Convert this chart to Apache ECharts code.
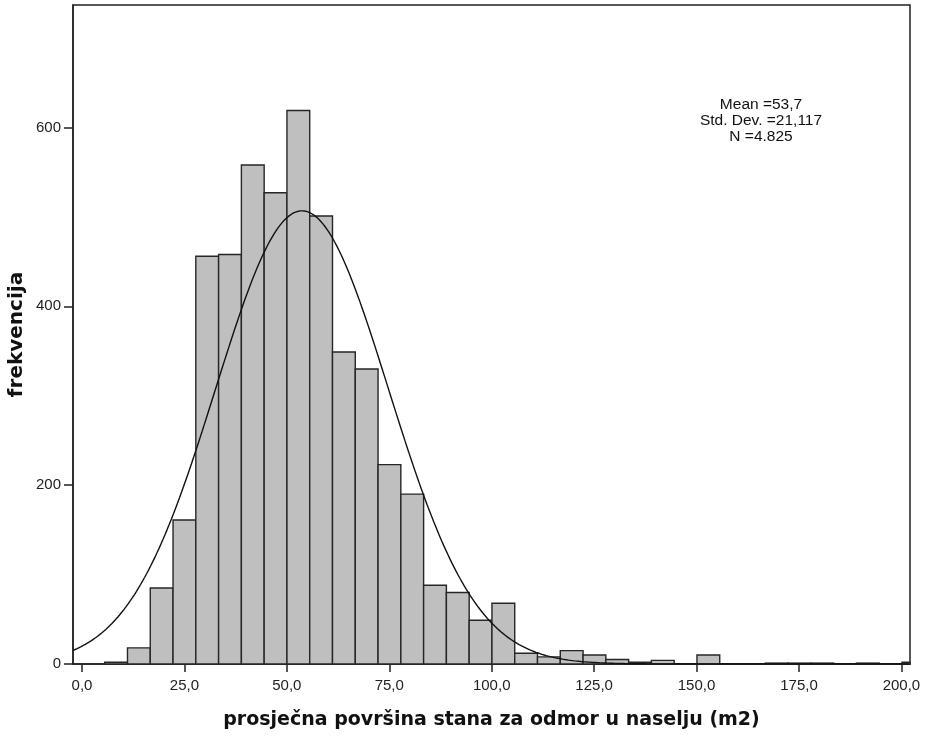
<!DOCTYPE html>
<html>
<head>
<meta charset="utf-8">
<script src="https://cdn.jsdelivr.net/npm/echarts@6/dist/echarts.min.js"></script>
<style>
html,body{margin:0;padding:0;background:#fff;}
#chart{width:931px;height:738px;}
</style>
</head>
<body>
<div id="chart"></div>
<script>
// Histogram bins: first bin lower edge and common bin width (m2)
const binStart = 5.54;
const binWidth = 5.56;
// Frequencies per bin
const counts = [2, 18, 85, 161, 456, 458, 558, 527, 619, 501, 349, 330, 223, 190, 88, 80, 49, 68,
                12, 8, 15, 10, 5, 2, 4, 0, 10, 0, 0, 1, 1, 1, 0, 1, 0, 2];
// Summary statistics shown in the chart
const statMean = 53.7;
const statSd = 21.117;
const statN = 4825;
const statLines = ['Mean =53,7', 'Std. Dev. =21,117', 'N =4.825'];
// Axis ticks
const xTicks = [0, 25, 50, 75, 100, 125, 150, 175, 200];
const yTicks = [0, 200, 400, 600];
const xMin = -2.2, xMax = 202.1, yMax = 737;

const barData = counts.map((c, i) => [binStart + i * binWidth, binStart + (i + 1) * binWidth, c]);

// fitted normal curve from the displayed statistics
const curve = [];
for (let x = xMin; x <= xMax + 1e-9; x += 0.5) {
  const z = (x - statMean) / statSd;
  curve.push([x, statN * binWidth / (statSd * Math.sqrt(2 * Math.PI)) * Math.exp(-0.5 * z * z)]);
}

const chart = echarts.init(document.getElementById('chart'), null, {renderer: 'canvas'});
const fontFam = '"Liberation Sans", Arial, sans-serif';
const titleFam = '"DejaVu Sans", Verdana, sans-serif';
chart.setOption({
  animation: false,
  backgroundColor: '#fff',
  grid: {left: 73, right: 21, top: 5, bottom: 74, containLabel: false, outerBoundsMode: 'none',
    show: true, borderColor: '#222', borderWidth: 1.5, backgroundColor: 'transparent'},
  xAxis: {
    type: 'value', min: xMin, max: xMax,
    name: 'prosječna površina stana za odmor u naselju (m2)',
    nameLocation: 'middle', nameGap: 47, nameMoveOverlap: false,
    nameTextStyle: {fontFamily: titleFam, fontWeight: 'bold', fontSize: 19, color: '#111'},
    axisLine: {show: true, onZero: false, lineStyle: {color: '#222', width: 1.5}},
    axisTick: {show: true, length: 8, customValues: xTicks, lineStyle: {color: '#222', width: 1.5}},
    axisLabel: {customValues: xTicks, margin: 14, fontFamily: fontFam, fontSize: 15, color: '#222',
      formatter: v => v.toFixed(1).replace('.', ',')},
    splitLine: {show: false}
  },
  yAxis: {
    type: 'value', min: 0, max: yMax,
    name: 'frekvencija', nameLocation: 'middle', nameGap: 46, nameMoveOverlap: false,
    nameTextStyle: {fontFamily: titleFam, fontWeight: 'bold', fontSize: 20, color: '#111'},
    axisLine: {show: true, onZero: false, lineStyle: {color: '#222', width: 1.5}},
    axisTick: {show: true, length: 9, customValues: yTicks, lineStyle: {color: '#222', width: 1.5}},
    axisLabel: {customValues: yTicks, margin: 12, fontFamily: fontFam, fontSize: 15, color: '#222'},
    splitLine: {show: false}
  },
  series: [
    {
      type: 'custom',
      data: barData,
      renderItem: function (params, api) {
        const p0 = api.coord([api.value(0), 0]);
        const p1 = api.coord([api.value(1), api.value(2)]);
        const rect = echarts.graphic.clipRectByRect(
          {x: p0[0], y: p1[1], width: p1[0] - p0[0], height: p0[1] - p1[1]},
          params.coordSys);
        if (!rect) return null;
        return {type: 'rect', shape: rect,
          style: {fill: '#bfbfbf', stroke: '#262626', lineWidth: 1.4}};
      },
      z: 2
    },
    {
      type: 'line', data: curve, showSymbol: false, smooth: false, clip: true,
      lineStyle: {color: '#111', width: 1.4}, z: 3
    }
  ],
  graphic: [{
    type: 'text', x: 761, y: 97,
    style: {text: statLines.join('\n'), fontFamily: fontFam, fontSize: 15.5, lineHeight: 16,
      fill: '#111', align: 'center', verticalAlign: 'top'}
  }]
});
</script>
</body>
</html>
